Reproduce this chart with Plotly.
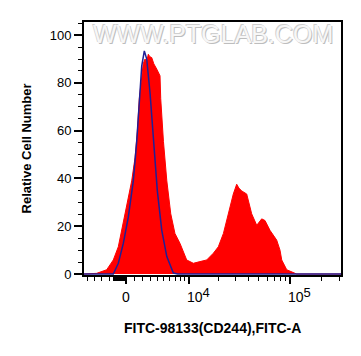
import numpy as np
import plotly.graph_objects as go

# ---------------- data (fluorescence value, count) ----------------
red_x = [-5600, -4630, -3630, -2290, -1470, -870, -469, 117, 704, 1094, 1372, 1615,
         1910, 2100, 2327, 2550, 2755, 2950, 3212, 3500, 3918, 4200, 4407, 4515,
         4943, 5496, 6180, 6964, 7992, 9492, 11194, 13118, 15391, 17940, 20124,
         22600, 25255, 28250, 30475, 32000, 34080, 38100, 42600, 47650, 53200,
         57250, 63900, 74150, 79800, 82900, 92600, 115500, 307000]
red_y = [0, 0, 0.3, 1.8, 5.9, 11.4, 18.3, 29.3, 39, 48.6, 59.6, 73.4,
         84.4, 88, 90, 89, 92, 91, 90.6, 88, 85.8, 84, 83, 73.4,
         55.5, 39, 25.2, 17, 12.8, 5.9, 4.5, 5.2, 5.9, 8.7, 11.4,
         17, 25.2, 33.5, 37.6, 36, 34.8, 33.5, 25.2, 20.4, 23.1,
         22.4, 18.3, 14.2, 10, 5.9, 1.8, 0, 0]

blue_x = [-5600, -1470, -870, -280, 304, 893, 1300, 1615, 1910, 2240, 2548, 2979,
          3430, 4007, 4678, 5496, 6660, 7500, 307000]
blue_y = [0, 0, 4.5, 12.8, 23.8, 39, 55.5, 73.4, 87, 93.4, 90, 76,
          55.5, 34.8, 18.3, 7.3, 0.4, 0, 0]

major_tick_vals = [0, 1e4, 1e5]
major_tick_text = ["0",
                   "10<span style='font-size:13px;baseline-shift:40%'>4</span>",
                   "10<span style='font-size:13px;baseline-shift:40%'>5</span>"]
minor_tick_vals = ([-5000, -4000, -3000, -2000] + list(range(-1500, 0, 100)) +
                   [1000 * k for k in range(1, 10)] +
                   [1e4 * k for k in range(2, 10)] + [2e5, 3e5])
x_limits = [-5600, 307000]
y_limits = [-0.4, 105.5]

# biexponential-like display transform
C = 5300.0
def T(v):
    return np.arcsinh(np.asarray(v, dtype=float) / C)

fig = go.Figure()
fig.add_trace(go.Scatter(x=T(red_x), y=red_y, mode="lines", fill="tozeroy",
                         fillcolor="#ff0000", line=dict(color="#ff0000", width=1),
                         hoverinfo="skip", showlegend=False))
fig.add_trace(go.Scatter(x=T(blue_x), y=blue_y, mode="lines",
                         line=dict(color="#1f1f96", width=1.5),
                         hoverinfo="skip", showlegend=False))

axis_font = dict(family="Liberation Sans, Arial, sans-serif", color="#000")

# x tick labels (FlowJo style: decade labels start at the tick)
tick_annotations = []
for val, txt in zip(major_tick_vals, major_tick_text):
    is_zero = (val == 0)
    tick_annotations.append(dict(
        text=txt, xref="x", yref="paper", x=float(T(val)), y=-0.125,
        xanchor="center" if is_zero else "left", yanchor="bottom",
        xshift=0 if is_zero else -4, showarrow=False,
        font=dict(size=14, **axis_font)))

# page body has an 8px default margin, so the figure is sized to compensate
fig.update_layout(
    width=353, height=348,
    margin=dict(l=76, r=20, t=12, b=81),
    paper_bgcolor="white", plot_bgcolor="white",
    showlegend=False,
    xaxis=dict(
        range=list(T(x_limits)), showgrid=False, zeroline=False,
        showline=True, linecolor="black", linewidth=2, mirror=True,
        tickmode="array", tickvals=list(T(major_tick_vals)), showticklabels=False,
        ticks="outside", ticklen=7, tickwidth=2, tickcolor="black",
        minor=dict(tickmode="array", tickvals=list(T(minor_tick_vals)),
                   ticks="outside", ticklen=4, tickwidth=1, tickcolor="black"),
    ),
    yaxis=dict(
        range=y_limits, showgrid=False, zeroline=False,
        showline=True, linecolor="black", linewidth=2, mirror=True,
        tickmode="array", tickvals=[0, 20, 40, 60, 80, 100],
        ticks="outside", ticklen=8, tickwidth=2, tickcolor="black",
        tickfont=dict(size=13, **axis_font),
        minor=dict(dtick=5, tick0=0, ticks="outside", ticklen=4, tickwidth=1,
                   tickcolor="black"),
    ),
    annotations=tick_annotations + [
        dict(text="<b>FITC-98133(CD244),FITC-A</b>", xref="paper", yref="paper",
             x=0.5, y=-0.208, xanchor="center", yanchor="middle", showarrow=False,
             font=dict(size=14, **axis_font)),
        dict(text="<b>Relative Cell Number</b>", xref="paper", yref="paper",
             x=-0.222, y=0.5, xanchor="center", yanchor="middle", showarrow=False,
             textangle=-90, font=dict(size=13, **axis_font)),
        dict(text="WWW.PTGLAB.COM", xref="paper", yref="paper",
             x=0.5, y=0.953, xanchor="center", yanchor="middle", showarrow=False,
             font=dict(size=25, family="Liberation Sans, Arial, sans-serif",
                       color="#f7f7f7",
                       shadow="-1px -1px 0 #cfcfcf, 1px 1px 0 #bdbdbd")),
    ],
)

fig.write_html("out.html")
